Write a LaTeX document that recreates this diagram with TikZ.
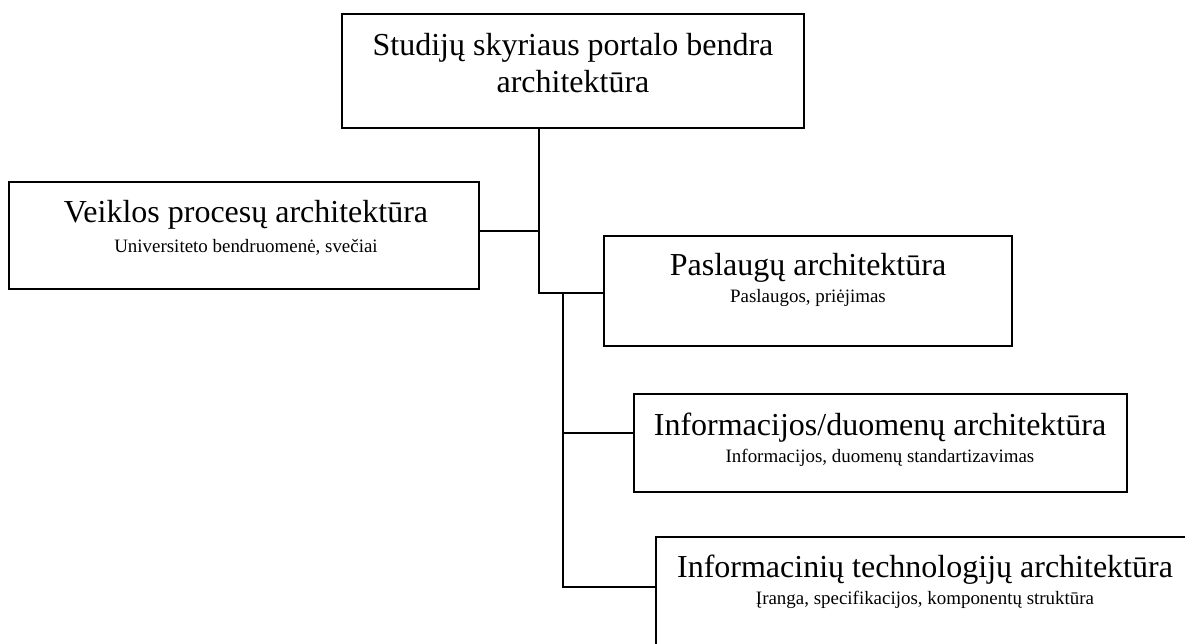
\documentclass[tikz,border=0pt]{standalone}
\usepackage{fontspec}
\setmainfont{Liberation Serif}
\usetikzlibrary{fit}
\begin{document}
\begin{tikzpicture}[x=0.75pt,y=-0.75pt,
  box/.style={draw,line width=1.4pt,inner sep=0pt},
  ttl/.style={anchor=base,inner sep=0pt,font=\fontsize{24}{28}\selectfont},
  sub/.style={anchor=base,inner sep=0pt,font=\fontsize{14.2}{17}\selectfont},
  wire/.style={line width=1.4pt}]
\clip (0,0) rectangle (1185,643);
\fill[white] (0,0) rectangle (1185,643);

% boxes
\node[box,fit={(342,14) (804,128)}] (top) {};
\node[box,fit={(9,182) (479,289)}] (veik) {};
\node[box,fit={(604,236) (1012,346)}] (pasl) {};
\node[box,fit={(634,394) (1127,492)}] (info) {};
\node[box,fit={(656,537) (1194,720)}] (it) {};

% texts
\node[ttl] (top1) at (573,55) {Studijų skyriaus portalo bendra};
\node[ttl] (top2) at (573,92) {architektūra};
\node[ttl] (veikT) at (246,222) {Veiklos procesų architektūra};
\node[sub] (veikS) at (246,252) {Universiteto bendruomenė, svečiai};
\node[ttl] (paslT) at (808,275) {Paslaugų architektūra};
\node[sub] (paslS) at (808,302) {Paslaugos, priėjimas};
\node[ttl] (infoT) at (880,435) {Informacijos/duomenų architektūra};
\node[sub] (infoS) at (880,462) {Informacijos, duomenų standartizavimas};
\node[ttl] (itT) at (925,577) {Informacinių technologijų architektūra};
\node[sub] (itS) at (925,604) {Įranga, specifikacijos, komponentų struktūra};

% connectors
\coordinate (j1) at (539,231);
\coordinate (b1) at (539,293);
\coordinate (b2) at (563,293);
\coordinate (j2) at (563,433);
\coordinate (b3) at (563,587);
\draw[wire] (top.south -| b1) -- (b1) -- (b1 -| pasl.west);
\draw[wire] (veik.east |- j1) -- (j1);
\draw[wire] (b2) -- (b3) -- (b3 -| it.west);
\draw[wire] (j2) -- (j2 -| info.west);
\end{tikzpicture}
\end{document}
